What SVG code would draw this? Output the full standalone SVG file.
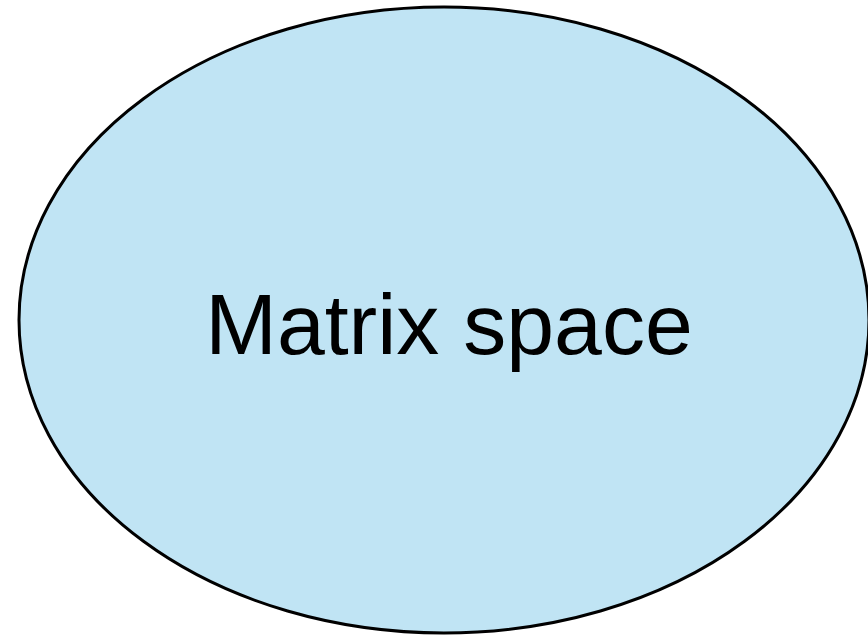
<svg xmlns="http://www.w3.org/2000/svg" width="868" height="636" viewBox="0 0 868 636">
<style>
.node{fill:#c0e4f4;stroke:#000;stroke-width:3}
.lbl{font-family:"Liberation Sans",Arial,sans-serif;font-size:86px;fill:#000;text-anchor:middle}
</style>
<rect width="868" height="636" fill="#fff"/>
<g id="matrix-space">
<ellipse class="node" cx="444" cy="320" rx="425" ry="313"/>
<text class="lbl" x="449" y="354">Matrix space</text>
</g>
<g id="connectors"></g>
</svg>
